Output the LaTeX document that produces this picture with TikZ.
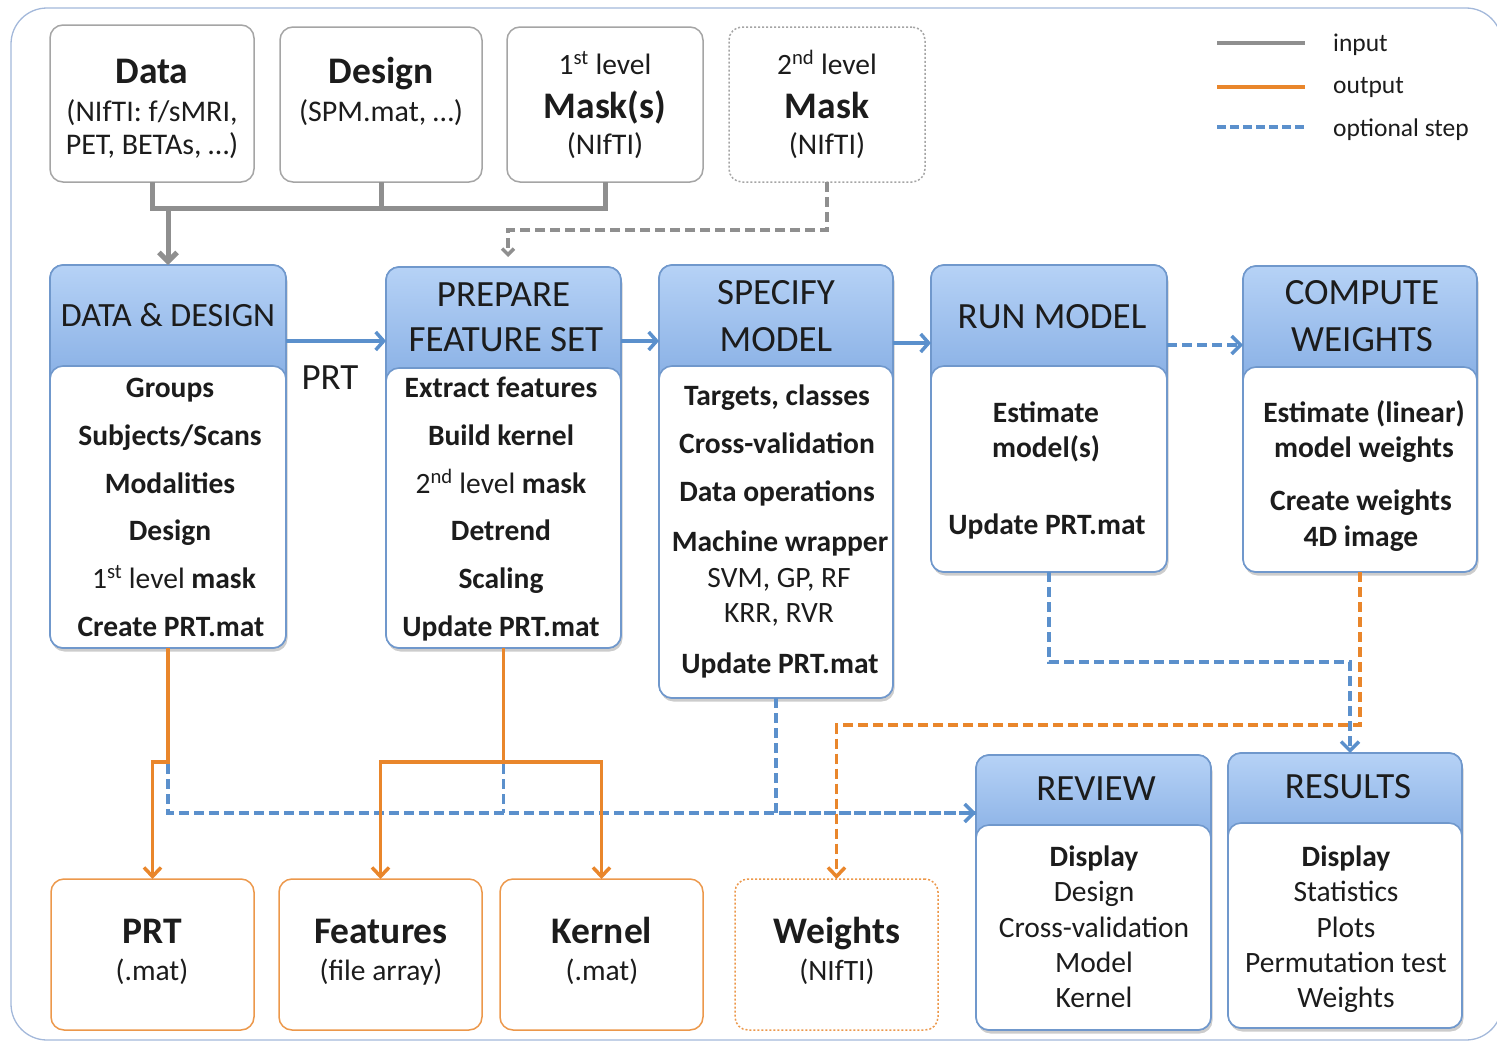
\documentclass[tikz,border=0pt]{standalone}
\usepackage{fontspec}
\setmainfont{Carlito}
\usetikzlibrary{arrows.meta,shadows}
\definecolor{hdtop}{HTML}{B6D2F6}
\definecolor{hdbot}{HTML}{86AEE4}
\definecolor{bbord}{HTML}{7098CC}
\definecolor{lblue}{HTML}{5B90CC}
\definecolor{orng}{HTML}{E9862B}
\definecolor{gline}{HTML}{8F8F8F}
\definecolor{gbord}{HTML}{A5A5A5}
\definecolor{frm}{HTML}{A3B8DA}
\definecolor{txt}{HTML}{1C1C1C}
\tikzset{
 pfull/.style={draw=bbord, line width=1.6pt, fill=white, rounded corners=13pt, inner sep=0pt, outer sep=0pt, drop shadow={opacity=0.4, shadow xshift=1.5pt, shadow yshift=-3.5pt}},
 phead/.style={draw=bbord, line width=1.6pt, top color=hdtop, bottom color=hdbot, rounded corners=13pt, inner sep=0pt, outer sep=0pt},
 pbody/.style={draw=bbord, line width=1.6pt, fill=white, rounded corners=13pt, inner sep=0pt, outer sep=0pt},
 topbox/.style={draw=gbord, line width=1.5pt, fill=white, rounded corners=13pt, inner sep=0pt, outer sep=0pt},
 outbox/.style={draw=orng!85, line width=1.5pt, fill=white, rounded corners=13pt, inner sep=0pt, outer sep=0pt},
 htx/.style={anchor=base, font=\fontsize{37}{44}\selectfont, text=txt, inner sep=0pt},
 bb/.style={anchor=base, font=\bfseries\fontsize{29.5}{35}\selectfont, text=txt, inner sep=0pt},
 br/.style={anchor=base, font=\fontsize{29.5}{35}\selectfont, text=txt, inner sep=0pt},
 big/.style={anchor=base, font=\bfseries\fontsize{37.5}{44}\selectfont, text=txt, inner sep=0pt},
 lg/.style={anchor=base west, font=\fontsize{25.5}{30}\selectfont, text=txt, inner sep=0pt},
 inl/.style={draw=gline, line width=5pt},
 inarrow/.style={inl, -{Straight Barb[length=9pt,width=18pt]}},
 indash/.style={draw=gline, line width=3.5pt, dash pattern=on 10pt off 5pt, -{Straight Barb[length=6pt,width=12pt]}},
 outl/.style={draw=orng, line width=3.5pt},
 outarrow/.style={outl, -{Straight Barb[length=9pt,width=17pt]}},
 outdash/.style={outl, dash pattern=on 10pt off 5pt, -{Straight Barb[length=9pt,width=17pt]}},
 bl/.style={draw=lblue, line width=3.5pt},
 blarrow/.style={bl, -{Straight Barb[length=8pt,width=18pt]}},
 bldash/.style={bl, dash pattern=on 10pt off 5pt},
 bldasharrow/.style={bldash, -{Straight Barb[length=9pt,width=18pt]}},
}
\newcommand{\procnode}[6]{%
 \node[pfull, minimum width={#4-#2}, minimum height={#5-#3}] (#1) at ({(#2+#4)/2},{(#3+#5)/2}) {};
 \node[phead, minimum width={#4-#2}, minimum height={#6-#3+20}] (#1hd) at ({(#2+#4)/2},{(#3+#6+20)/2}) {};
 \node[pbody, minimum width={#4-#2}, minimum height={#5-#6}] (#1bd) at ({(#2+#4)/2},{(#6+#5)/2}) {};
}
\begin{document}
\begin{tikzpicture}[x=1pt,y=-1pt]
\useasboundingbox (0,0) rectangle (1497,1044);
\draw[frm, line width=1.3pt, rounded corners=36pt] (11,8) rectangle (1502,1040);

% top input boxes
\node[topbox, minimum width=204, minimum height=157] (data) at (152,103.5) {};
\node[topbox, minimum width=202, minimum height=155] (design) at (381,104.5) {};
\node[topbox, minimum width=196, minimum height=155] (mask1) at (605,104.5) {};
\node[topbox, dash pattern=on 2pt off 2pt, minimum width=196, minimum height=155] (mask2) at (827,104.5) {};
\node[big] (dataA) at (152,83) {Data};
\node[br, font=\fontsize{30}{35}\selectfont] (dataB) at (152,121) {(NIfTI: f/sMRI,};
\node[br, font=\fontsize{30}{35}\selectfont] (dataC) at (152,154) {PET, BETAs, …)};
\node[big] (desA) at (381,83) {Design};
\node[br, font=\fontsize{30}{35}\selectfont] (desB) at (381,121) {(SPM.mat, …)};
\node[br] (m1A) at (605,74) {1\textsuperscript{st} level};
\node[big] (m1B) at (605,118) {Mask(s)};
\node[br, font=\fontsize{30}{35}\selectfont] (m1C) at (605,154) {(NIfTI)};
\node[br] (m2A) at (827,74) {2\textsuperscript{nd} level};
\node[big] (m2B) at (827,118) {Mask};
\node[br, font=\fontsize{30}{35}\selectfont] (m2C) at (827,154) {(NIfTI)};

% legend
\coordinate (lgA1) at (1217,43); \coordinate (lgA2) at (1305,43);
\coordinate (lgB1) at (1217,87); \coordinate (lgB2) at (1305,87);
\coordinate (lgC1) at (1217,127); \coordinate (lgC2) at (1305,127);
\draw[inl, line width=4pt] (lgA1) -- (lgA2);
\draw[outl, line width=4pt] (lgB1) -- (lgB2);
\draw[bldash, line width=4pt, dash pattern=on 9pt off 4pt] (lgC1) -- (lgC2);
\node[lg] (lgT1) at (1333,51) {input};
\node[lg] (lgT2) at (1333,93) {output};
\node[lg] (lgT3) at (1333,136) {optional step};

% process boxes
\procnode{dd}{50}{265}{286}{648}{366}
\procnode{pfs}{386}{267}{621}{648}{368}
\procnode{sm}{659}{265}{893}{698}{366}
\procnode{rm}{931}{265}{1167}{572}{366}
\procnode{cw}{1243}{266}{1477}{572}{367}
\procnode{rev}{976}{755}{1211}{1030}{825}
\procnode{res}{1228}{753}{1462}{1028}{823}

\node[htx, font=\fontsize{34}{40}\selectfont] (ddT) at (168,326) {DATA \& DESIGN};
\node[htx] (pfsT1) at (503.5,306) {PREPARE};
\node[htx] (pfsT2) at (506,351) {FEATURE SET};
\node[htx] (smT1) at (776,304) {SPECIFY};
\node[htx] (smT2) at (776,351) {MODEL};
\node[htx] (rmT) at (1052,328) {RUN MODEL};
\node[htx] (cwT1) at (1362,304) {COMPUTE};
\node[htx] (cwT2) at (1362,351) {WEIGHTS};
\node[htx] (revT) at (1096,800) {REVIEW};
\node[htx] (resT) at (1348,798) {RESULTS};

% DATA & DESIGN body
\node[bb] (dd1) at (170,397) {Groups};
\node[bb] (dd2) at (170,445) {Subjects/Scans};
\node[bb] (dd3) at (170,493) {Modalities};
\node[bb] (dd4) at (170,540) {Design};
\node[bb] (dd5) at (174,588) {{\mdseries 1\textsuperscript{st} level} mask};
\node[bb] (dd6) at (171,636) {Create PRT.mat};
% PREPARE body
\node[bb] (pf1) at (501,397) {Extract features};
\node[bb] (pf2) at (501,445) {Build kernel};
\node[bb] (pf3) at (501,493) {{\mdseries 2\textsuperscript{nd} level} mask};
\node[bb] (pf4) at (501,540) {Detrend};
\node[bb] (pf5) at (501,588) {Scaling};
\node[bb] (pf6) at (501,636) {Update PRT.mat};
% SPECIFY body
\node[bb] (sm1) at (777,405) {Targets, classes};
\node[bb] (sm2) at (777,453) {Cross-validation};
\node[bb] (sm3) at (777,501) {Data operations};
\node[bb] (sm4) at (780,551) {Machine wrapper};
\node[br] (sm5) at (779,587) {SVM, GP, RF};
\node[br] (sm6) at (779,622) {KRR, RVR};
\node[bb] (sm7) at (780,673) {Update PRT.mat};
% RUN MODEL body
\node[bb] (rm1) at (1046,422) {Estimate};
\node[bb] (rm2) at (1046,457) {model(s)};
\node[bb] (rm3) at (1047,534) {Update PRT.mat};
% COMPUTE body
\node[bb] (cw1) at (1364,422) {Estimate (linear)};
\node[bb] (cw2) at (1364,457) {model weights};
\node[bb] (cw3) at (1361,510) {Create weights};
\node[bb] (cw4) at (1361,546) {4D image};
% REVIEW body
\node[bb] (rv1) at (1094,866) {Display};
\node[br] (rv2) at (1094,901) {Design};
\node[br] (rv3) at (1094,937) {Cross-validation};
\node[br] (rv4) at (1094,972) {Model};
\node[br] (rv5) at (1094,1007) {Kernel};
% RESULTS body
\node[bb] (rs1) at (1346,866) {Display};
\node[br] (rs2) at (1346,901) {Statistics};
\node[br] (rs3) at (1346,937) {Plots};
\node[br] (rs4) at (1346,972) {Permutation test};
\node[br] (rs5) at (1346,1007) {Weights};

% output boxes
\node[outbox, minimum width=203, minimum height=151] (prt) at (152.5,954.5) {};
\node[outbox, minimum width=203, minimum height=151] (feat) at (380.5,954.5) {};
\node[outbox, minimum width=203, minimum height=151] (kern) at (601.5,954.5) {};
\node[outbox, dash pattern=on 2pt off 2pt, minimum width=203, minimum height=151] (wts) at (836.5,954.5) {};
\node[big] (prtA) at (152,943) {PRT};
\node[br] (prtB) at (152,980) {(.mat)};
\node[big] (featA) at (381,943) {Features};
\node[br] (featB) at (381,980) {(file array)};
\node[big] (kernA) at (602,943) {Kernel};
\node[br] (kernB) at (602,980) {(.mat)};
\node[big] (wtsA) at (837,943) {Weights};
\node[br] (wtsB) at (837,980) {(NIfTI)};

% input connectors
\draw[inl] (data.south) -- (data.south |- 0,208) -- (mask1.south |- 0,208) -- (mask1.south);
\draw[inl] (design.south) -- (design.south |- 0,208);
\draw[inarrow] (dd.north |- 0,206) -- (dd.north);
\draw[indash] (mask2.south) -- (mask2.south |- 0,230) -- (508,230) -- (508,257);

% main flow
\draw[blarrow] (dd.east |- 0,341) -- (pfs.west |- 0,341);
\node[htx] (prtlab) at (330,389) {PRT};
\draw[blarrow] (pfs.east |- 0,341) -- (sm.west |- 0,341);
\draw[blarrow] (sm.east |- 0,343) -- (rm.west |- 0,343);
\draw[bldasharrow] (rm.east |- 0,345) -- (cw.west |- 0,345);

% blue dashed to review / results
\draw[bldash] (dd.south |- 0,764) -- (dd.south |- 0,813) -- (rev.west |- 0,813);
\draw[bldash] (pfs.south |- 0,764) -- (pfs.south |- 0,813);
\draw[bldasharrow] (sm.south) -- (sm.south |- 0,813) -- (rev.west |- 0,813);
\draw[bldasharrow] (rm.south) -- (rm.south |- 0,662) -- (1350,662) -- (1350,753);

% orange outputs
\draw[outarrow] (dd.south) -- (dd.south |- 0,762) -- (prt.north |- 0,762) -- (prt.north);
\draw[outl] (pfs.south) -- (pfs.south |- 0,762);
\draw[outl, {Straight Barb[length=9pt,width=17pt]}-{Straight Barb[length=9pt,width=17pt]}] (feat.north) -- (feat.north |- 0,762) -- (kern.north |- 0,762) -- (kern.north);
\draw[outdash] (cw.south) -- (cw.south |- 0,725) -- (wts.north |- 0,725) -- (wts.north);
\end{tikzpicture}
\end{document}
